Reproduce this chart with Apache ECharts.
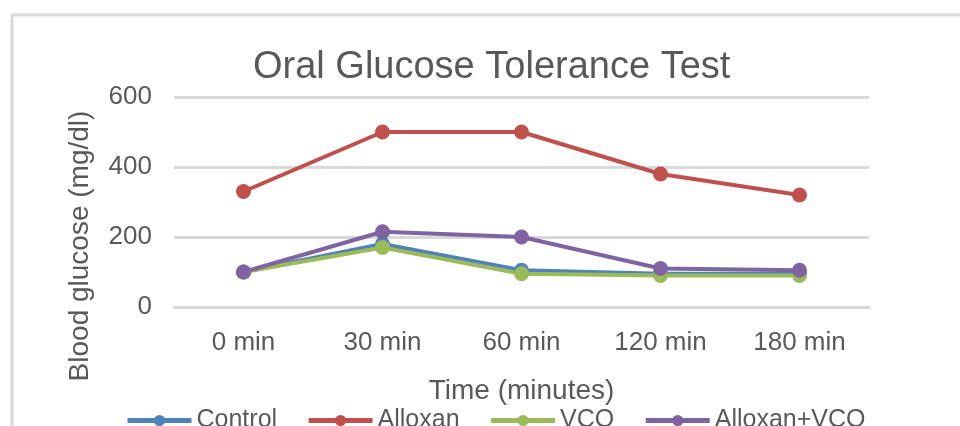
<!DOCTYPE html>
<html>
<head>
<meta charset="utf-8">
<script src="https://cdn.jsdelivr.net/npm/echarts@6/dist/echarts.min.js"></script>
<style>
  html, body { margin: 0; padding: 0; background: #fff; }
  #chart { width: 960px; height: 426px; }
</style>
</head>
<body>
<div id="chart"></div>
<script>
// time points
const categories = ['0 min', '30 min', '60 min', '120 min', '180 min'];
// blood glucose (mg/dl)
const control = [100, 180, 105, 95, 95];
const alloxan = [330, 500, 500, 380, 320];
const vco = [100, 170, 95, 90, 90];
const alloxanVco = [100, 215, 200, 110, 105];

const font = 'Liberation Sans, Arial, sans-serif';
const textGray = '#595959';

const chart = echarts.init(document.getElementById('chart'));

function lineSeries(name, data, color) {
  return {
    name: name,
    type: 'line',
    data: data,
    symbol: 'circle',
    symbolSize: 15,
    lineStyle: { color: color, width: 4 },
    itemStyle: { color: color },
    animation: false
  };
}

chart.setOption({
  backgroundColor: '#fff',
  graphic: [{
    type: 'rect',
    shape: { x: 12, y: 15, width: 1000, height: 500 },
    style: { fill: 'none', stroke: '#d9d9d9', lineWidth: 3 },
    silent: true
  }],
  title: {
    text: 'Oral Glucose Tolerance Test',
    left: 248,
    top: 44,
    textStyle: { fontFamily: font, fontSize: 38, fontWeight: 'normal', color: textGray }
  },
  legend: {
    data: ['Control', 'Alloxan', 'VCO', 'Alloxan+VCO'],
    left: 120,
    top: 403,
    itemWidth: 64,
    itemHeight: 14,
    itemGap: 29,
    lineStyle: { width: 5 },
    textStyle: { fontFamily: font, fontSize: 25, color: textGray }
  },
  grid: { left: 174, right: 91, top: 97, bottom: 119, containLabel: false },
  xAxis: {
    type: 'category',
    data: categories,
    boundaryGap: true,
    name: 'Time (minutes)',
    nameLocation: 'middle',
    nameGap: 70,
    nameTextStyle: { fontFamily: font, fontSize: 28, color: textGray },
    axisLine: { lineStyle: { color: '#d9d9d9', width: 3 } },
    axisTick: { show: false },
    axisLabel: { fontFamily: font, fontSize: 26, color: textGray, margin: 23 }
  },
  yAxis: {
    type: 'value',
    min: 0,
    max: 600,
    interval: 200,
    name: 'Blood glucose (mg/dl)',
    nameLocation: 'middle',
    nameGap: 80,
    nameTextStyle: { fontFamily: font, fontSize: 28, color: textGray, padding: [0, 88, 0, 0] },
    axisLine: { show: false },
    axisTick: { show: false },
    axisLabel: { fontFamily: font, fontSize: 26, color: textGray, margin: 22 },
    splitLine: { lineStyle: { color: '#d9d9d9', width: 3 } }
  },
  series: [
    lineSeries('Control', control, '#4F81BD'),
    lineSeries('Alloxan', alloxan, '#C0504D'),
    lineSeries('VCO', vco, '#9BBB59'),
    lineSeries('Alloxan+VCO', alloxanVco, '#8064A2')
  ]
});
</script>
</body>
</html>
